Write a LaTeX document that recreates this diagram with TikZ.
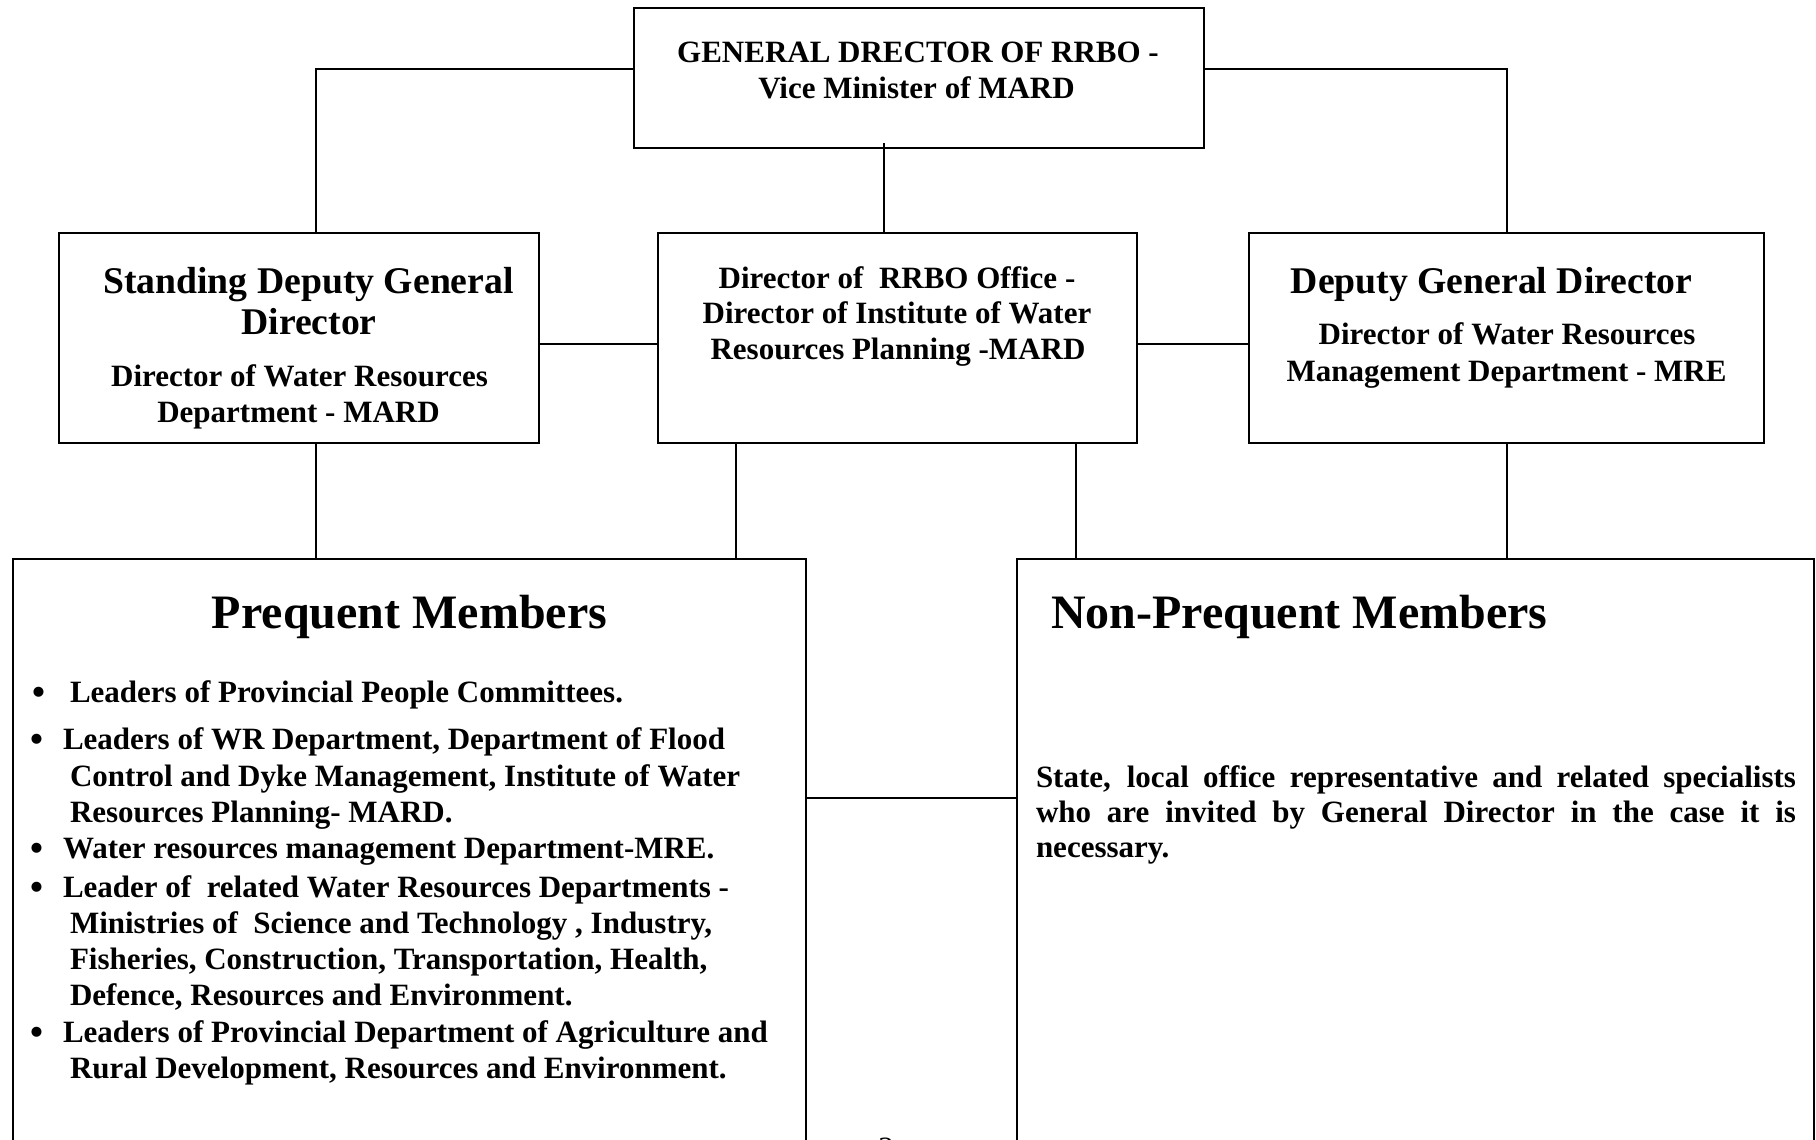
\documentclass[tikz,border=0pt]{standalone}
\usepackage{fontspec}
\setmainfont{Liberation Serif}

\newcommand{\fbody}{\fontsize{31}{36}\selectfont\bfseries}
\newcommand{\fhead}{\fontsize{37.7}{42}\selectfont\bfseries}
\newcommand{\ftitle}{\fontsize{48}{55}\selectfont\bfseries}

\tikzset{
  box/.style={draw, line width=2pt, inner sep=0pt, outer sep=0pt},
  link/.style={line width=1.8pt},
  txt/.style={inner sep=0pt, outer sep=0pt, anchor=base, font=\fbody},
  txtleft/.style={txt, anchor=base west},
  headtxt/.style={txt, font=\fhead},
  titletxt/.style={txt, font=\ftitle},
  bullet/.style={txtleft, font=\fontsize{37}{42}\selectfont\bfseries}
}

\begin{document}
\begin{tikzpicture}[x=1pt, y=-1pt]
  \useasboundingbox (0,0) rectangle (1816,1140);

  % Boxes
  \node[box, minimum width=570pt, minimum height=140pt] (top) at (919,78) {};
  \node[box, minimum width=480pt, minimum height=210pt] (std) at (299,338) {};
  \node[box, minimum width=479pt, minimum height=210pt] (mid) at (897.5,338) {};
  \node[box, minimum width=515pt, minimum height=210pt] (dep) at (1506.5,338) {};
  \node[box, minimum width=793pt, minimum height=601pt] (pre) at (409.5,859.5) {};
  \node[box, minimum width=797pt, minimum height=601pt] (non) at (1415.5,859.5) {};

  % Top box
  \node[txt] (toptxta) at (918,63) {GENERAL DRECTOR OF RRBO -};
  \node[txt] (toptxtb) at (916.5,99) {Vice Minister of MARD};

  % Standing deputy
  \node[headtxt] (stdheada) at (308.5,293) {Standing Deputy General};
  \node[headtxt] (stdheadb) at (309,334) {Director};
  \node[txt] (stdtxta) at (299.5,386) {Director of Water Resources};
  \node[txt] (stdtxtb) at (298.5,422) {Department - MARD};

  % RRBO office
  \node[txt] (midtxta) at (897,288) {Director of\ \ RRBO Office -};
  \node[txt] (midtxtb) at (897,323) {Director of Institute of Water};
  \node[txt] (midtxtc) at (898,359) {Resources Planning -MARD};

  % Deputy
  \node[headtxt] (dephead) at (1491.5,293) {Deputy General Director};
  \node[txt] (deptxta) at (1507,344) {Director of Water Resources};
  \node[txt] (deptxtb) at (1506.5,381) {Management Department - MRE};

  % Prequent members
  \node[titletxt] (pretitle) at (409.5,628) {Prequent Members};
  \node[bullet] (bula) at (32.5,704) {\textbullet};
  \node[bullet] (bulb) at (30.5,751) {\textbullet};
  \node[bullet] (bulc) at (30.5,860) {\textbullet};
  \node[bullet] (buld) at (30.5,899) {\textbullet};
  \node[bullet] (bule) at (30.5,1044) {\textbullet};
  \node[txtleft] (prea) at (70,702) {Leaders of Provincial People Committees.};
  \node[txtleft] (preb) at (63,749) {Leaders of WR Department, Department of Flood};
  \node[txtleft] (prec) at (70,786) {Control and Dyke Management, Institute of Water};
  \node[txtleft] (pred) at (70,822) {Resources Planning- MARD.};
  \node[txtleft] (pree) at (63,858) {Water resources management Department-MRE.};
  \node[txtleft] (pref) at (63,897) {Leader of\ \ related Water Resources Departments -};
  \node[txtleft] (preg) at (70,933) {Ministries of\ \ Science and Technology , Industry,};
  \node[txtleft] (preh) at (70,969) {Fisheries, Construction, Transportation, Health,};
  \node[txtleft] (prei) at (70,1005) {Defence, Resources and Environment.};
  \node[txtleft] (prej) at (63,1042) {Leaders of Provincial Department of Agriculture and};
  \node[txtleft] (prek) at (70,1078) {Rural Development, Resources and Environment.};

  % Non-prequent members
  \node[titletxt, anchor=base west] (nontitle) at (1051,628) {Non-Prequent Members};
  \node[txtleft] (nona) at (1036,787)
    {\makebox[760pt][s]{State, local office representative and related specialists}};
  \node[txtleft] (nonb) at (1036,822)
    {\makebox[760pt][s]{who are invited by General Director in the case it is}};
  \node[txtleft] (nonc) at (1036,857) {necessary.};

  % Page number
  \node[txt, font=\fontsize{31}{36}\selectfont] (pageno) at (886,1158) {2};

  % Connectors
  \draw[link] ([yshift=9pt]top.west) -| ([xshift=17pt]std.north);
  \draw[link] ([yshift=9pt]top.east) -| ([xshift=0.5pt]dep.north);
  \draw[link] ([xshift=-35pt,yshift=5pt]top.south) -- ([xshift=-13.5pt]mid.north);
  \draw[link] ([yshift=-6pt]std.east) -- ([yshift=-6pt]mid.west);
  \draw[link] ([yshift=-6pt]mid.east) -- ([yshift=-6pt]dep.west);
  \draw[link] ([xshift=17pt]std.south) -- ([xshift=-93.5pt]pre.north);
  \draw[link] ([xshift=-161.5pt]mid.south) -- ([xshift=326.5pt]pre.north);
  \draw[link] ([xshift=178.5pt]mid.south) -- ([xshift=-339.5pt]non.north);
  \draw[link] ([xshift=0.5pt]dep.south) -- ([xshift=91.5pt]non.north);
  \draw[link] ([yshift=61.5pt]pre.east) -- ([yshift=61.5pt]non.west);
\end{tikzpicture}
\end{document}
